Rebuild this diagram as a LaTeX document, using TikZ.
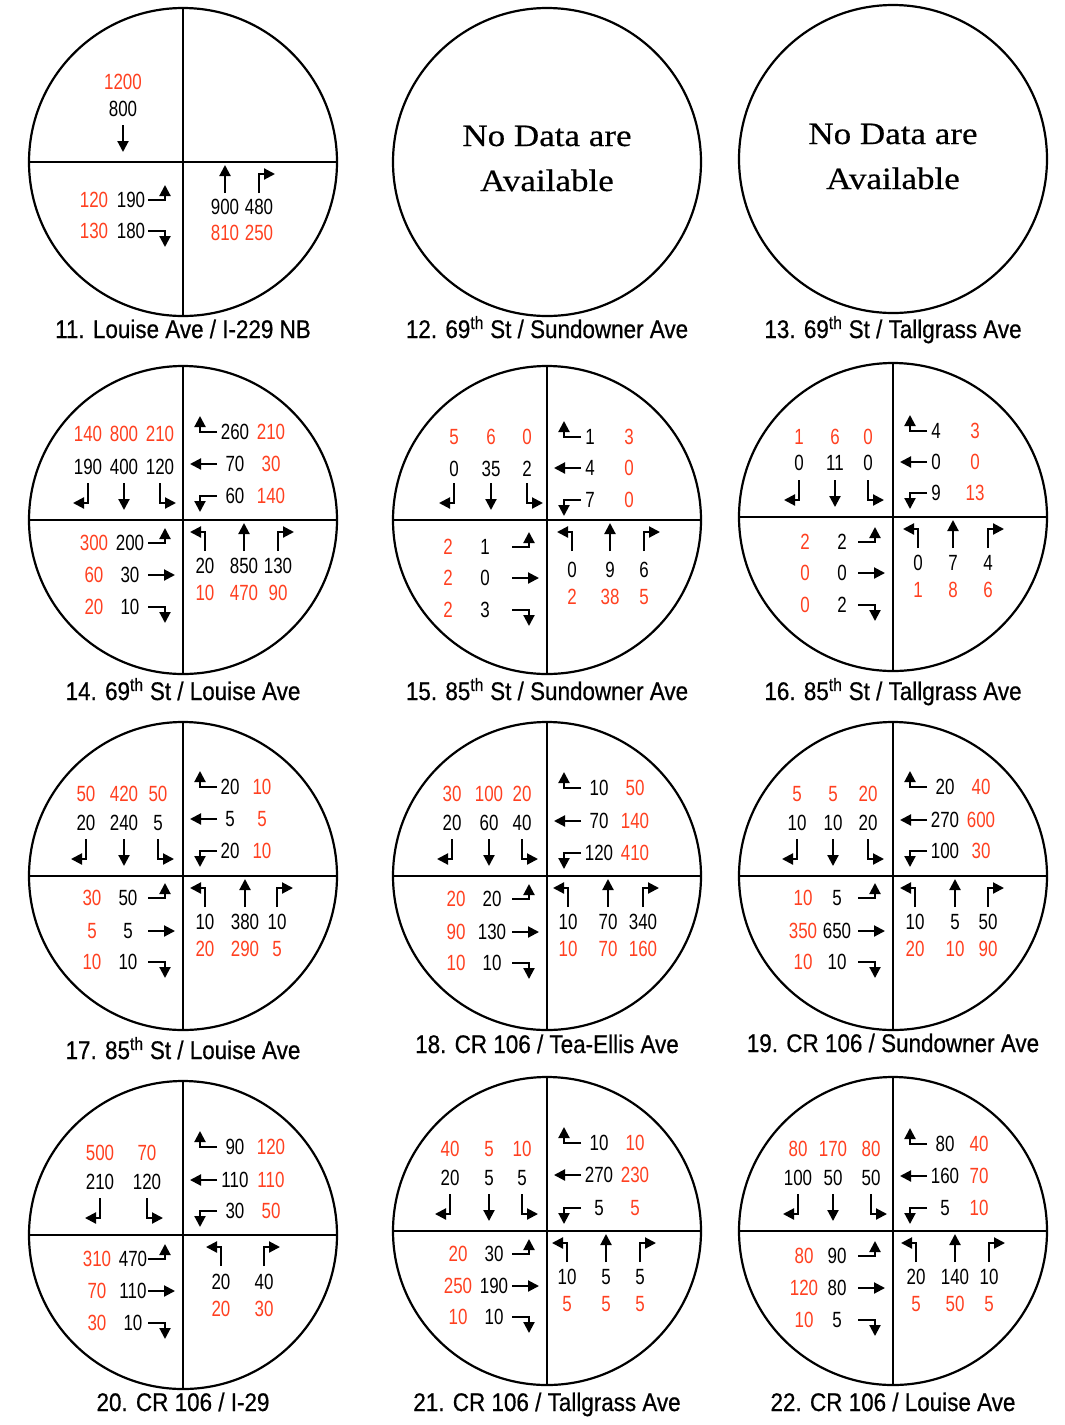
\documentclass[tikz,border=0pt]{standalone}
\usepackage{fontspec}
\setmainfont{Liberation Sans}
\newfontfamily\volfont[FakeStretch=0.77]{Liberation Sans}
\newfontfamily\titlefont[FakeStretch=0.88,FakeBold=0.6]{Liberation Sans}
\newfontfamily\nodatafont[FakeStretch=1.13,FakeBold=0.4]{Liberation Serif}
\usetikzlibrary{arrows.meta}

\definecolor{volred}{RGB}{255,64,32}

% where the volumes sit, from the centre of a circle
\def\nwO{-82}\def\nwI{-53}
\def\neI{52}\def\neO{88}
\def\swO{-89}\def\swI{-53}
\def\seI{46}\def\seO{73}

\newcommand{\crossing}[2]{%
  \draw[ring] (0,0) circle (154pt);
  \node[title] (\cid-title) at (0,#2) {#1};}
\newcommand{\quads}{%
  \draw[legs] (0,-154) -- (0,154);
  \draw[legs] (-154,0) -- (154,0);}
% one movement: turn, position, outer (red) and inner (black) volume
\newcommand{\sbmv}[4]{%
  \pic at (#2,-37) {sb#1};
  \node[vred] (\cid-sb#1-o) at (#2,\nwO) {#3};
  \node[vblk] (\cid-sb#1-i) at (#2,\nwI) {#4};}
\newcommand{\wbmv}[4]{%
  \pic at (17,#2) {wb#1};
  \node[vblk] (\cid-wb#1-i) at (\neI,#2) {#3};
  \node[vred] (\cid-wb#1-o) at (\neO,#2) {#4};}
\newcommand{\ebmv}[4]{%
  \pic at (-18,#2) {eb#1};
  \node[vred] (\cid-eb#1-o) at (\swO,#2) {#3};
  \node[vblk] (\cid-eb#1-i) at (\swI,#2) {#4};}
\newcommand{\nbmv}[4]{%
  \pic at (#2,31) {nb#1};
  \node[vblk] (\cid-nb#1-i) at (#2,\seI) {#3};
  \node[vred] (\cid-nb#1-o) at (#2,\seO) {#4};}

\begin{document}
\begin{tikzpicture}[x=1pt, y=-1pt,
    ring/.style={line width=2.2pt},
    legs/.style={line width=1.6pt},
    mvline/.style={line width=2.1pt, -{Triangle[length=11pt,width=11pt]}},
    vred/.style={font=\volfont\fontsize{22}{26}\selectfont, text=volred, inner sep=0pt},
    vblk/.style={font=\volfont\fontsize{22}{26}\selectfont, text=black, inner sep=0pt},
    title/.style={font=\titlefont\fontsize{25.5}{30}\selectfont, inner sep=0pt, anchor=base},
    nodata/.style={font=\nodatafont\fontsize{31}{36}\selectfont, inner sep=0pt, anchor=base},
    sbR/.pic={\draw[mvline] (0,0) -- (0,20) -- (-15,20);},
    sbT/.pic={\draw[mvline] (0,0) -- (0,27);},
    sbL/.pic={\draw[mvline] (0,0) -- (0,20) -- (16,20);},
    wbR/.pic={\draw[mvline] (17,0) -- (0,0) -- (0,-16);},
    wbT/.pic={\draw[mvline] (17,0) -- (-10,0);},
    wbL/.pic={\draw[mvline] (17,0) -- (0,0) -- (0,16);},
    ebL/.pic={\draw[mvline] (-17,0) -- (0,0) -- (0,-15);},
    ebT/.pic={\draw[mvline] (-17,0) -- (10,0);},
    ebR/.pic={\draw[mvline] (-17,0) -- (0,0) -- (0,16);},
    nbL/.pic={\draw[mvline] (0,0) -- (0,-19) -- (-15,-19);},
    nbT/.pic={\draw[mvline] (0,0) -- (0,-28);},
    nbR/.pic={\draw[mvline] (0,0) -- (0,-19) -- (16,-19);}]
  \path[use as bounding box] (0,0) rectangle (1065,1425);

  % 11
  \begin{scope}[shift={(183,162)}]\def\cid{c11}
    \crossing{11. Louise Ave / I-229 NB}{176}
    \quads
    \def\nwO{-80}
    \sbmv{T}{-60}{1200}{800}
    \def\swI{-52}
    \ebmv{L}{38}{120}{190}
    \ebmv{R}{69}{130}{180}
    \def\seI{45}\def\seO{71}
    \nbmv{T}{42}{900}{810}
    \nbmv{R}{76}{480}{250}
  \end{scope}

  % 12
  \begin{scope}[shift={(547,162)}]\def\cid{c12}
    \crossing{12. 69\textsuperscript{th} St / Sundowner Ave}{176}
    \node[nodata] (\cid-nd1) at (0,-16) {No Data are};
    \node[nodata] (\cid-nd2) at (0,29) {Available};
  \end{scope}

  % 13
  \begin{scope}[shift={(893,159)}]\def\cid{c13}
    \crossing{13. 69\textsuperscript{th} St / Tallgrass Ave}{179}
    \node[nodata] (\cid-nd1) at (0,-15) {No Data are};
    \node[nodata] (\cid-nd2) at (0,30) {Available};
  \end{scope}

  % 14
  \begin{scope}[shift={(183,520)}]\def\cid{c14}
    \crossing{14. 69\textsuperscript{th} St / Louise Ave}{180}
    \quads
    \def\nwO{-86}
    \sbmv{R}{-95}{140}{190}
    \sbmv{T}{-59}{800}{400}
    \sbmv{L}{-23}{210}{120}
    \wbmv{R}{-88}{260}{210}
    \wbmv{T}{-56}{70}{30}
    \wbmv{L}{-24}{60}{140}
    \ebmv{L}{23}{300}{200}
    \ebmv{T}{55}{60}{30}
    \ebmv{R}{87}{20}{10}
    \nbmv{L}{22}{20}{10}
    \nbmv{T}{61}{850}{470}
    \nbmv{R}{95}{130}{90}
  \end{scope}

  % 15
  \begin{scope}[shift={(547,520)}]\def\cid{c15}
    \crossing{15. 85\textsuperscript{th} St / Sundowner Ave}{180}
    \quads
    \def\nwO{-83}\def\nwI{-51}
    \def\neI{43}\def\neO{82}
    \def\swO{-99}\def\swI{-62}
    \def\seI{50}\def\seO{77}
    \sbmv{R}{-93}{5}{0}
    \sbmv{T}{-56}{6}{35}
    \sbmv{L}{-20}{0}{2}
    \wbmv{R}{-83}{1}{3}
    \wbmv{T}{-52}{4}{0}
    \wbmv{L}{-20}{7}{0}
    \ebmv{L}{27}{2}{1}
    \ebmv{T}{58}{2}{0}
    \ebmv{R}{90}{2}{3}
    \nbmv{L}{25}{0}{2}
    \nbmv{T}{63}{9}{38}
    \nbmv{R}{97}{6}{5}
  \end{scope}

  % 16
  \begin{scope}[shift={(893,517)}]\def\cid{c16}
    \crossing{16. 85\textsuperscript{th} St / Tallgrass Ave}{183}
    \quads
    \def\nwO{-80}\def\nwI{-54}
    \def\neI{43}\def\neO{82}
    \def\swO{-88}\def\swI{-51}
    \sbmv{R}{-94}{1}{0}
    \sbmv{T}{-58}{6}{11}
    \sbmv{L}{-25}{0}{0}
    \wbmv{R}{-86}{4}{3}
    \wbmv{T}{-55}{0}{0}
    \wbmv{L}{-24}{9}{13}
    \ebmv{L}{25}{2}{2}
    \ebmv{T}{56}{0}{0}
    \ebmv{R}{88}{0}{2}
    \nbmv{L}{25}{0}{1}
    \nbmv{T}{60}{7}{8}
    \nbmv{R}{95}{4}{6}
  \end{scope}

  % 17
  \begin{scope}[shift={(183,876)}]\def\cid{c17}
    \crossing{17. 85\textsuperscript{th} St / Louise Ave}{183}
    \quads
    \def\neI{47}\def\neO{79}
    \def\swO{-91}\def\swI{-55}
    \sbmv{R}{-97}{50}{20}
    \sbmv{T}{-59}{420}{240}
    \sbmv{L}{-25}{50}{5}
    \wbmv{R}{-89}{20}{10}
    \wbmv{T}{-57}{5}{5}
    \wbmv{L}{-25}{20}{10}
    \ebmv{L}{22}{30}{50}
    \ebmv{T}{55}{5}{5}
    \ebmv{R}{86}{10}{10}
    \nbmv{L}{22}{10}{20}
    \nbmv{T}{62}{380}{290}
    \nbmv{R}{94}{10}{5}
  \end{scope}

  % 18
  \begin{scope}[shift={(547,876)}]\def\cid{c18}
    \crossing{18. CR 106 / Tea-Ellis Ave}{177}
    \quads
    \def\swO{-91}\def\swI{-55}
    \sbmv{R}{-95}{30}{20}
    \sbmv{T}{-58}{100}{60}
    \sbmv{L}{-25}{20}{40}
    \wbmv{R}{-88}{10}{50}
    \wbmv{T}{-55}{70}{140}
    \wbmv{L}{-23}{120}{410}
    \ebmv{L}{23}{20}{20}
    \ebmv{T}{56}{90}{130}
    \ebmv{R}{87}{10}{10}
    \nbmv{L}{21}{10}{10}
    \nbmv{T}{61}{70}{70}
    \nbmv{R}{96}{340}{160}
  \end{scope}

  % 19
  \begin{scope}[shift={(893,876)}]\def\cid{c19}
    \crossing{19. CR 106 / Sundowner Ave}{176}
    \quads
    \def\swO{-90}\def\swI{-56}
    \sbmv{R}{-96}{5}{10}
    \sbmv{T}{-60}{5}{10}
    \sbmv{L}{-25}{20}{20}
    \wbmv{R}{-89}{20}{40}
    \wbmv{T}{-56}{270}{600}
    \wbmv{L}{-25}{100}{30}
    \ebmv{L}{22}{10}{5}
    \ebmv{T}{55}{350}{650}
    \ebmv{R}{86}{10}{10}
    \nbmv{L}{22}{10}{20}
    \nbmv{T}{62}{5}{10}
    \nbmv{R}{95}{50}{90}
  \end{scope}

  % 20
  \begin{scope}[shift={(183,1235)}]\def\cid{c20}
    \crossing{20. CR 106 / I-29}{176}
    \quads
    \def\swO{-86}\def\swI{-50}
    \def\seI{47}\def\seO{74}
    \sbmv{R}{-83}{500}{210}
    \sbmv{L}{-36}{70}{120}
    \wbmv{R}{-88}{90}{120}
    \wbmv{T}{-55}{110}{110}
    \wbmv{L}{-24}{30}{50}
    \ebmv{L}{24}{310}{470}
    \ebmv{T}{56}{70}{110}
    \ebmv{R}{88}{30}{10}
    \nbmv{L}{38}{20}{20}
    \nbmv{R}{81}{40}{30}
  \end{scope}

  % 21
  \begin{scope}[shift={(547,1231)}]\def\cid{c21}
    \crossing{21. CR 106 / Tallgrass Ave}{180}
    \quads
    \sbmv{R}{-97}{40}{20}
    \sbmv{T}{-58}{5}{5}
    \sbmv{L}{-25}{10}{5}
    \wbmv{R}{-88}{10}{10}
    \wbmv{T}{-56}{270}{230}
    \wbmv{L}{-23}{5}{5}
    \ebmv{L}{23}{20}{30}
    \ebmv{T}{55}{250}{190}
    \ebmv{R}{86}{10}{10}
    \nbmv{L}{20}{10}{5}
    \nbmv{T}{59}{5}{5}
    \nbmv{R}{93}{5}{5}
  \end{scope}

  % 22
  \begin{scope}[shift={(893,1231)}]\def\cid{c22}
    \crossing{22. CR 106 / Louise Ave}{180}
    \quads
    \def\neO{86}
    \def\swI{-56}
    \sbmv{R}{-95}{80}{100}
    \sbmv{T}{-60}{170}{50}
    \sbmv{L}{-22}{80}{50}
    \wbmv{R}{-87}{80}{40}
    \wbmv{T}{-55}{160}{70}
    \wbmv{L}{-23}{5}{10}
    \ebmv{L}{25}{80}{90}
    \ebmv{T}{57}{120}{80}
    \ebmv{R}{89}{10}{5}
    \nbmv{L}{23}{20}{5}
    \nbmv{T}{62}{140}{50}
    \nbmv{R}{96}{10}{5}
  \end{scope}
\end{tikzpicture}
\end{document}
